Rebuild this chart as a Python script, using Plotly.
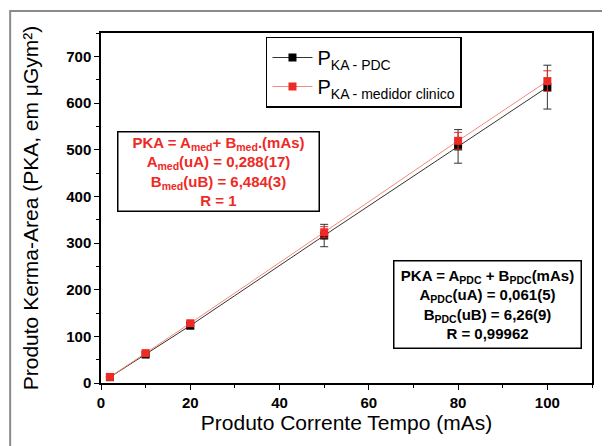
import plotly.graph_objects as go

mas = [2, 10, 20, 50, 80, 100]
pka_pdc = [12.5, 61, 123, 316, 507, 634]
err_pdc = [1.5, 4, 7, 24, 36, 47]
pka_med = [13, 64, 128, 323, 519, 647]
err_med = [1, 3, 5, 12, 18, 22]

x_ticks = [0, 20, 40, 60, 80, 100]
y_ticks = [0, 100, 200, 300, 400, 500, 600, 700]

FONT = "Arial, Liberation Sans, sans-serif"
RED = "#ee2a24"

fig = go.Figure()
fig.add_trace(go.Scatter(
    x=mas, y=pka_pdc, mode="lines+markers",
    name="P<sub>KA - PDC</sub>",
    line=dict(color="#333333", width=1),
    marker=dict(symbol="square", size=8, color="black"),
    error_y=dict(type="data", array=err_pdc, color="#333333", thickness=1, width=4),
))
fig.add_trace(go.Scatter(
    x=mas, y=pka_med, mode="lines+markers",
    name="P<sub>KA - medidor clinico</sub>",
    line=dict(color="#f58a7c", width=1),
    marker=dict(symbol="square", size=8, color=RED),
    error_y=dict(type="data", array=err_med, color=RED, thickness=1, width=4),
))

axis_common = dict(
    showline=True, linecolor="black", linewidth=1.5, mirror=True,
    ticks="outside", ticklen=5, tickcolor="black", tickwidth=1,
    showgrid=False, zeroline=False,
    tickfont=dict(family=FONT, size=15, color="black", weight="bold"),
)

fig.update_xaxes(
    range=[0, 110], tickvals=x_ticks,
    minor=dict(ticks="outside", ticklen=3, tickcolor="black", dtick=10, tick0=0),
    title_text="Produto Corrente Tempo (mAs)", title_standoff=4,
    title_font=dict(family=FONT, size=21, color="black"),
    **axis_common,
)
fig.update_yaxes(
    range=[0, 750], tickvals=y_ticks,
    minor=dict(ticks="outside", ticklen=3, tickcolor="black", dtick=50, tick0=0),
    title_text="Produto Kerma-Area (PKA, em \u03bcGym\u00b2)", title_standoff=22,
    title_font=dict(family=FONT, size=21, color="black"),
    **axis_common,
)

# figure is offset by the page's 8px body margin, so size/margins compensate
fig.update_layout(
    width=602, height=438,
    margin=dict(l=93, r=18, t=25, b=63, autoexpand=False),
    paper_bgcolor="white", plot_bgcolor="white",
    font=dict(family=FONT, color="black"),
    showlegend=True,
    legend=dict(
        x=0.336, y=0.99, xanchor="left", yanchor="top",
        bordercolor="black", borderwidth=1.5, bgcolor="white",
        font=dict(family=FONT, size=20, color="black"),
        tracegroupgap=0, itemwidth=40,
    ),
)

# outer frame
fig.add_shape(type="rect", xref="paper", yref="paper",
              x0=-0.185, x1=1.033, y0=-0.25, y1=1.063,
              line=dict(color="#8a8a8a", width=2), layer="below")

fig.add_annotation(
    xref="paper", yref="paper", x=0.239, y=0.604,
    xanchor="center", yanchor="middle",
    text=("PKA = A<sub>med</sub>+ B<sub>med</sub>.(mAs)<br>"
          "A<sub>med</sub>(uA) = 0,288(17)<br>"
          "B<sub>med</sub>(uB) = 6,484(3)<br>"
          "R = 1"),
    showarrow=False, align="center",
    font=dict(family=FONT, size=15, color=RED, weight="bold"),
    bordercolor="black", borderwidth=1.5, bgcolor="white",
    width=198, height=76,
)
fig.add_annotation(
    xref="paper", yref="paper", x=0.788, y=0.223,
    xanchor="center", yanchor="middle",
    text=("PKA = A<sub>PDC</sub> + B<sub>PDC</sub>(mAs)<br>"
          "A<sub>PDC</sub>(uA) = 0,061(5)<br>"
          "B<sub>PDC</sub>(uB) = 6,26(9)<br>"
          "R = 0,99962"),
    showarrow=False, align="center",
    font=dict(family=FONT, size=15, color="black", weight="bold"),
    bordercolor="black", borderwidth=1.5, bgcolor="white",
    width=184, height=84,
)

fig.write_html("out.html")
